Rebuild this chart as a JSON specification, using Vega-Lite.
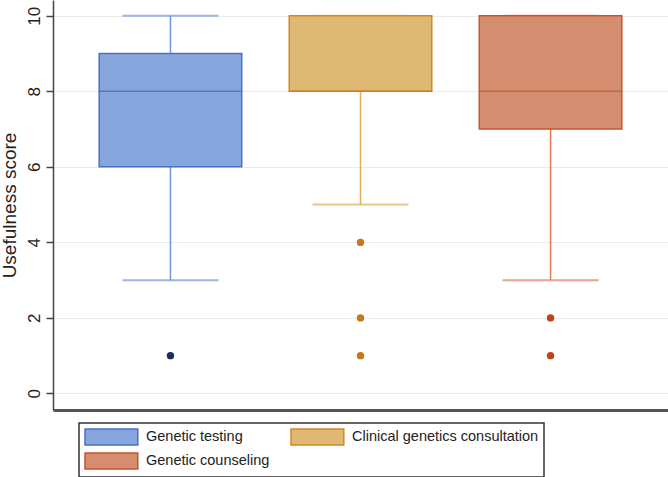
{
  "$schema": "https://vega.github.io/schema/vega-lite/v6.json",
  "width": 615,
  "height": 410,
  "autosize": {"type": "none"},
  "padding": {"left": 53, "top": 0, "right": 0, "bottom": 67},
  "background": "white",
  "config": {
    "view": {"stroke": null},
    "font": "Liberation Sans",
    "axisY": {
      "domainColor": "#444", "domainWidth": 1.5,
      "tickColor": "#444", "tickWidth": 1.5, "tickSize": 7,
      "gridColor": "#ebebeb", "gridWidth": 1,
      "labelFontSize": 17, "labelColor": "#222", "labelAngle": 270, "labelPadding": 3,
      "titleFontSize": 19, "titleFontWeight": "normal", "titleColor": "#222", "titlePadding": 6
    },
    "legend": {
      "orient": "none", "legendX": 26, "legendY": 423, "direction": "horizontal",
      "strokeColor": "#333", "strokeWidth": 1.5, "padding": 5,
      "columns": 2, "columnPadding": 18, "rowPadding": 2,
      "symbolType": "M-1,-1 L5.6,-1 L5.6,1 L-1,1 Z",
      "symbolSize": 256, "symbolStrokeWidth": 1.5, "symbolOpacity": 1,
      "labelFont": "Liberation Sans",
      "labelFontSize": 14.5, "labelColor": "#222", "labelOffset": 44,
      "labelLimit": 400
    }
  },
  "datasets": {
    "boxes": [
      {"group": "Genetic testing", "lo": 3, "q1": 6, "med": 8, "q3": 9, "hi": 10},
      {"group": "Clinical genetics consultation", "lo": 5, "q1": 8, "med": 8, "q3": 10, "hi": 10},
      {"group": "Genetic counseling", "lo": 3, "q1": 7, "med": 8, "q3": 10, "hi": 10}
    ],
    "outliers": [
      {"group": "Genetic testing", "score": 1},
      {"group": "Clinical genetics consultation", "score": 4},
      {"group": "Clinical genetics consultation", "score": 2},
      {"group": "Clinical genetics consultation", "score": 1},
      {"group": "Genetic counseling", "score": 2},
      {"group": "Genetic counseling", "score": 1}
    ]
  },
  "encoding": {
    "x": {
      "field": "group", "type": "nominal",
      "sort": ["Genetic testing", "Clinical genetics consultation", "Genetic counseling"],
      "scale": {"paddingInner": 0, "paddingOuter": 0.118},
      "axis": {"labels": false, "ticks": false, "title": null, "grid": false, "domainColor": "#555", "domainWidth": 3}
    }
  },
  "layer": [
    {
      "data": {"name": "boxes"},
      "mark": {"type": "rule", "strokeWidth": 1.5},
      "encoding": {
        "y": {"field": "lo", "type": "quantitative", "scale": {"domain": [-0.44, 10.42], "nice": false, "zero": false}, "axis": {"values": [0, 2, 4, 6, 8, 10], "title": "Usefulness score", "grid": true}},
        "y2": {"field": "q1"},
        "stroke": {"field": "group", "type": "nominal", "scale": {"domain": ["Genetic testing", "Clinical genetics consultation", "Genetic counseling"], "range": ["#6f97e0", "#e3ad55", "#e27a55"]}, "legend": null}
      }
    },
    {
      "data": {"name": "boxes"},
      "mark": {"type": "rule", "strokeWidth": 1.5},
      "encoding": {
        "y": {"field": "q3", "type": "quantitative"},
        "y2": {"field": "hi"},
        "stroke": {"field": "group", "type": "nominal", "scale": {"domain": ["Genetic testing", "Clinical genetics consultation", "Genetic counseling"], "range": ["#6f97e0", "#e3ad55", "#e27a55"]}, "legend": null}
      }
    },
    {
      "data": {"name": "boxes"},
      "mark": {"type": "tick", "size": 96, "thickness": 2},
      "encoding": {
        "y": {"field": "lo", "type": "quantitative"},
        "color": {"field": "group", "type": "nominal", "scale": {"domain": ["Genetic testing", "Clinical genetics consultation", "Genetic counseling"], "range": ["#6f97e0", "#e3ad55", "#e27a55"]}, "legend": null}
      }
    },
    {
      "data": {"name": "boxes"},
      "mark": {"type": "tick", "size": 96, "thickness": 2},
      "encoding": {
        "y": {"field": "hi", "type": "quantitative"},
        "color": {"field": "group", "type": "nominal", "scale": {"domain": ["Genetic testing", "Clinical genetics consultation", "Genetic counseling"], "range": ["#6f97e0", "#e3ad55", "#e27a55"]}, "legend": null}
      }
    },
    {
      "data": {"name": "boxes"},
      "mark": {"type": "bar", "width": {"band": 0.75}, "strokeWidth": 1.5, "opacity": 1},
      "encoding": {
        "y": {"field": "q1", "type": "quantitative"},
        "y2": {"field": "q3"},
        "fill": {"field": "group", "type": "nominal", "title": null, "scale": {"domain": ["Genetic testing", "Clinical genetics consultation", "Genetic counseling"], "range": ["#87a6dd", "#dfb874", "#d48d6f"]}},
        "stroke": {"field": "group", "type": "nominal", "title": null, "scale": {"domain": ["Genetic testing", "Clinical genetics consultation", "Genetic counseling"], "range": ["#4a72c4", "#d4891f", "#c4562f"]}}
      }
    },
    {
      "data": {"name": "boxes"},
      "mark": {"type": "tick", "size": 143, "thickness": 1.5},
      "encoding": {
        "y": {"field": "med", "type": "quantitative"},
        "color": {"field": "group", "type": "nominal", "scale": {"domain": ["Genetic testing", "Clinical genetics consultation", "Genetic counseling"], "range": ["#3f66b8", "#cc7a10", "#c4562f"]}, "legend": null}
      }
    },
    {
      "data": {"name": "outliers"},
      "mark": {"type": "point", "filled": true, "size": 55, "opacity": 1},
      "encoding": {
        "y": {"field": "score", "type": "quantitative"},
        "color": {"field": "group", "type": "nominal", "scale": {"domain": ["Genetic testing", "Clinical genetics consultation", "Genetic counseling"], "range": ["#1c2e5a", "#c8781a", "#c0431c"]}, "legend": null}
      }
    }
  ],
  "resolve": {"scale": {"color": "independent", "stroke": "independent", "fill": "independent"}}
}
